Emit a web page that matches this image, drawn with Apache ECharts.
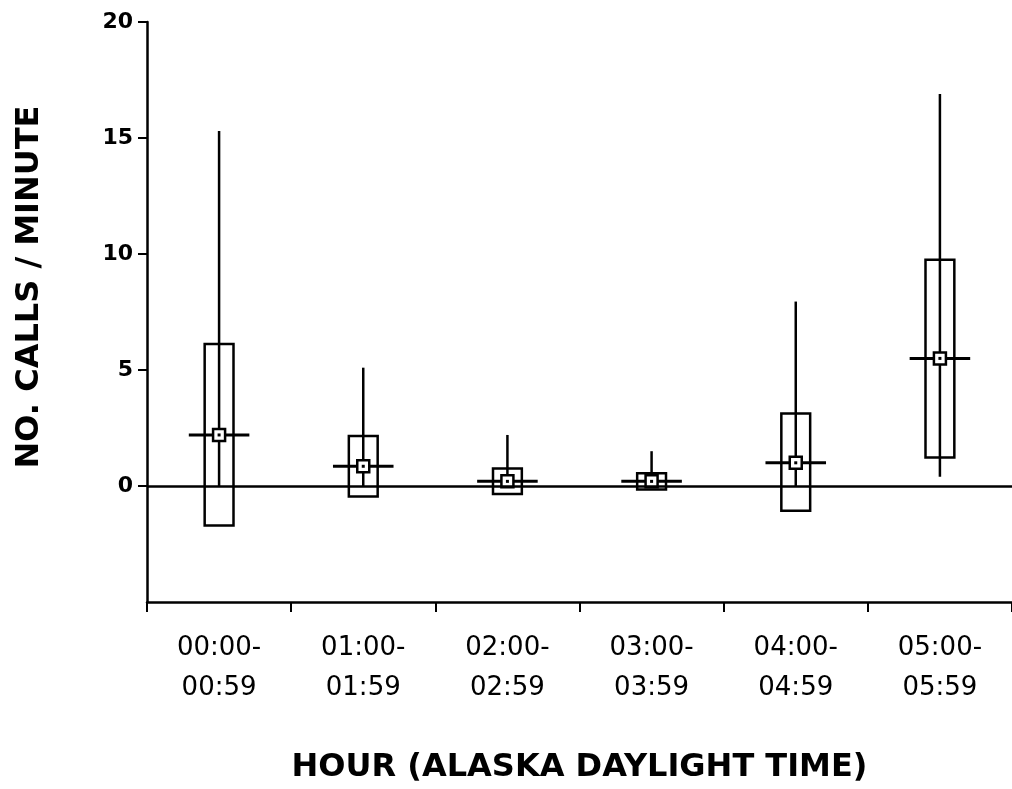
<!DOCTYPE html>
<html>
<head>
<meta charset="utf-8">
<script src="https://cdn.jsdelivr.net/npm/echarts@6/dist/echarts.min.js"></script>
<style>
  html, body { margin: 0; padding: 0; background: #fff; }
  #chart { width: 1012px; height: 789px; }
</style>
</head>
<body>
<div id="chart"></div>
<script>
// hour bins (Alaska daylight time)
var categories = ['00:00-\n00:59', '01:00-\n01:59', '02:00-\n02:59', '03:00-\n03:59', '04:00-\n04:59', '05:00-\n05:59'];
// whisker ends, box ends and mean, calls per minute
var whiskerLow  = [0, 0, 0, 0, 0, 0.4];
var whiskerHigh = [15.3, 5.1, 2.2, 1.5, 7.95, 16.9];
var boxLow      = [-1.7, -0.45, -0.35, -0.15, -1.07, 1.23];
var boxHigh     = [6.12, 2.15, 0.75, 0.55, 3.12, 9.75];
var means       = [2.2, 0.85, 0.2, 0.2, 1.0, 5.5];
var yTicks      = [0, 5, 10, 15, 20];
var yMin = -5;

var rows = categories.map(function (c, i) {
	return [i, whiskerLow[i], boxLow[i], means[i], boxHigh[i], whiskerHigh[i]];
});

var ink = '#000';

function renderBox(params, api) {
	var i = api.value(0);
	var band = api.size([1, 0])[0];
	var wLo = api.coord([i, api.value(1)]);
	var bLo = api.coord([i, api.value(2)]);
	var mid = api.coord([i, api.value(3)]);
	var bHi = api.coord([i, api.value(4)]);
	var wHi = api.coord([i, api.value(5)]);
	var x = mid[0];
	var boxW = band * 0.2;
	var half = band * 0.21;
	var m = 6;
	return {
		type: 'group',
		children: [
			{ type: 'line', shape: { x1: x, y1: wLo[1], x2: x, y2: wHi[1] },
			  style: { stroke: ink, lineWidth: 2.5 } },
			{ type: 'rect', shape: { x: x - boxW / 2, y: bHi[1], width: boxW, height: bLo[1] - bHi[1] },
			  style: { fill: 'none', stroke: ink, lineWidth: 2.5 } },
			{ type: 'line', shape: { x1: x - half, y1: mid[1], x2: x + half, y2: mid[1] },
			  style: { stroke: ink, lineWidth: 3 } },
			{ type: 'rect', shape: { x: x - m, y: mid[1] - m, width: 2 * m, height: 2 * m },
			  style: { fill: '#fff', stroke: ink, lineWidth: 2.5 } },
			{ type: 'rect', shape: { x: x - 1.5, y: mid[1] - 1.5, width: 3, height: 3 },
			  style: { fill: ink } }
		]
	};
}

var chart = echarts.init(document.getElementById('chart'));
chart.setOption({
	animation: false,
	backgroundColor: '#fff',
	grid: { left: 147, right: 0, top: 22, bottom: 186 },
	xAxis: {
		type: 'category',
		data: categories,
		boundaryGap: true,
		name: 'HOUR (ALASKA DAYLIGHT TIME)',
		nameLocation: 'middle',
		nameGap: 150,
		nameTextStyle: { fontFamily: 'DejaVu Sans', fontWeight: 'bold', fontSize: 32, color: ink },
		axisLine: { onZero: false, lineStyle: { color: ink, width: 2.5 } },
		axisTick: { show: true, alignWithLabel: false, length: 10, lineStyle: { color: ink, width: 2 } },
		axisLabel: { color: ink, fontFamily: 'DejaVu Sans', fontSize: 26, lineHeight: 40, margin: 26, interval: 0 },
		splitLine: { show: false }
	},
	yAxis: {
		type: 'value',
		min: yMin,
		max: yTicks[yTicks.length - 1],
		interval: 5,
		axisLine: { show: true, lineStyle: { color: ink, width: 2.5 } },
		axisTick: { show: true, length: 9, customValues: yTicks, lineStyle: { color: ink, width: 2 } },
		axisLabel: {
			color: ink, fontFamily: 'DejaVu Sans', fontWeight: 'bold', fontSize: 22, margin: 14,
			customValues: yTicks
		},
		splitLine: { show: false }
	},
	graphic: [{
		type: 'text',
		x: 30, y: 287,
		rotation: Math.PI / 2,
		style: {
			text: 'NO. CALLS / MINUTE',
			fontFamily: 'DejaVu Sans', fontWeight: 'bold', fontSize: 32,
			fill: ink, align: 'center', verticalAlign: 'middle'
		}
	}],
	series: [
		{
			type: 'line',
			data: [],
			z: 1,
			markLine: {
				silent: true,
				symbol: ['none', 'none'],
				label: { show: false },
				lineStyle: { color: ink, width: 2.5, type: 'solid' },
				data: [{ yAxis: 0 }]
			}
		},
		{
			type: 'custom',
			z: 2,
			data: rows,
			renderItem: renderBox,
			encode: { x: 0, y: [1, 2, 3, 4, 5] }
		}
	]
});
</script>
</body>
</html>
